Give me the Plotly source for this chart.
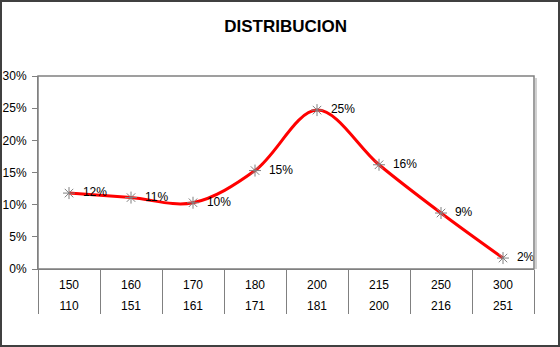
import plotly.graph_objects as go

upper_labels = ["150", "160", "170", "180", "200", "215", "250", "300"]
lower_labels = ["110", "151", "161", "171", "181", "200", "216", "251"]
shares = [0.118, 0.111, 0.103, 0.153, 0.247, 0.162, 0.087, 0.017]
share_text = ["\u00a0\u00a0" + f"{round(v*100)}%" for v in shares]
positions = list(range(len(upper_labels)))

W, H = 560, 347
ML, MR, MT, MB = 38, 26, 76, 78
pw, ph = W - ML - MR, H - MT - MB
FONT = "Arial, Liberation Sans"

fig = go.Figure()
fig.add_trace(go.Scatter(
    x=positions,
    y=shares,
    mode="lines+markers+text",
    line=dict(color="#ff0000", width=3, shape="spline", smoothing=1),
    marker=dict(symbol="asterisk-open", size=10, color="#808080",
                line=dict(color="#808080", width=1)),
    text=share_text,
    textposition="middle right",
    textfont=dict(family=FONT, size=12, color="#000000"),
    cliponaxis=False,
    showlegend=False,
))
# invisible trace on the second x axis so that it is drawn
fig.add_trace(go.Scatter(x=positions, y=shares, xaxis="x2", mode="markers",
                         marker=dict(opacity=0), hoverinfo="skip",
                         showlegend=False))

xrange = [-0.5, len(upper_labels) - 0.5]
fig.update_layout(
    width=W, height=H,
    margin=dict(l=ML, r=MR, t=MT, b=MB),
    paper_bgcolor="white", plot_bgcolor="white",
    font=dict(family=FONT, size=12, color="#000000"),
    title=dict(text="<b>DISTRIBUCION</b>", x=0.51, xanchor="center",
               y=1 - 26 / H, yanchor="middle",
               font=dict(family=FONT, size=17, color="#000000")),
    xaxis=dict(range=xrange, tickvals=positions, ticktext=upper_labels,
               showgrid=False, zeroline=False, automargin=False,
               showline=True, linecolor="#808080", linewidth=1,
               ticks="", ticklabelstandoff=5,
               minor=dict(tick0=-0.5, dtick=1, ticks="outside", ticklen=44,
                          tickcolor="#808080", tickwidth=1, showgrid=False),
               tickfont=dict(size=12, family=FONT)),
    xaxis2=dict(range=xrange, tickvals=positions, ticktext=lower_labels,
                overlaying="x", anchor="y", side="bottom", automargin=False,
                showgrid=False, zeroline=False, showline=False,
                ticks="", ticklabelstandoff=28,
                tickfont=dict(size=12, family=FONT)),
    yaxis=dict(range=[0, 0.30], dtick=0.05, tickformat=".0%",
               showgrid=False, zeroline=False, showline=True, automargin=False,
               linecolor="#808080", linewidth=1, ticks="outside",
               ticklen=5, tickcolor="#808080", ticklabelstandoff=3,
               tickfont=dict(size=12, family=FONT)),
    shapes=[
        dict(type="rect", xref="paper", yref="paper", x0=0, x1=1, y0=0, y1=1,
             line=dict(color="#808080", width=1.5), layer="above"),
        dict(type="line", xref="paper", yref="paper",
             x0=1 + 2 / pw, x1=1 + 2 / pw, y0=0, y1=1 - 2 / ph,
             line=dict(color="#d0d0d0", width=2)),
        dict(type="rect", xref="paper", yref="paper",
             x0=-(ML - 1) / pw, x1=1 + (MR - 1) / pw,
             y0=-(MB - 1) / ph, y1=1 + (MT - 1) / ph,
             line=dict(color="#404040", width=2)),
    ],
)

fig.write_html("out.html")
